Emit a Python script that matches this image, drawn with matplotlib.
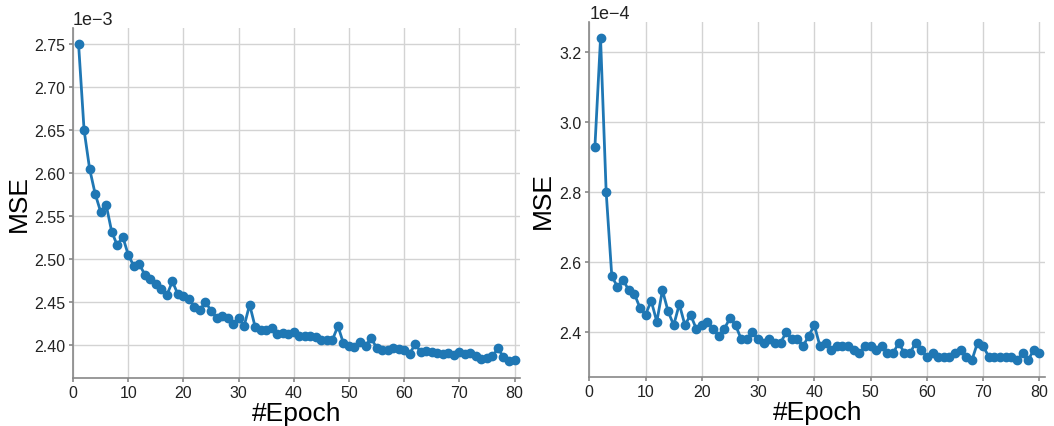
import numpy as np
import matplotlib
matplotlib.use("Agg")
import matplotlib.pyplot as plt

plt.rcParams['font.family'] = ['Liberation Sans', 'DejaVu Sans']

# data (MSE per epoch)
epochs = np.arange(1, 81)

mse_left = np.array([
    2.750, 2.650, 2.605, 2.576, 2.555, 2.563, 2.532, 2.516, 2.526, 2.505,
    2.492, 2.494, 2.482, 2.477, 2.471, 2.465, 2.458, 2.474, 2.459, 2.457,
    2.454, 2.444, 2.441, 2.450, 2.440, 2.432, 2.434, 2.432, 2.424, 2.431,
    2.422, 2.447, 2.421, 2.418, 2.418, 2.420, 2.413, 2.414, 2.413, 2.415,
    2.410, 2.410, 2.410, 2.409, 2.406, 2.406, 2.406, 2.422, 2.402, 2.399,
    2.398, 2.404, 2.399, 2.408, 2.397, 2.394, 2.394, 2.397, 2.395, 2.394,
    2.390, 2.401, 2.392, 2.393, 2.392, 2.391, 2.389, 2.391, 2.388, 2.392,
    2.389, 2.391, 2.387, 2.384, 2.385, 2.387, 2.396, 2.386, 2.381, 2.383,
]) * 1e-3

mse_right = np.array([
    2.93, 3.24, 2.80, 2.56, 2.53, 2.55, 2.52, 2.51, 2.47, 2.45,
    2.49, 2.43, 2.52, 2.46, 2.42, 2.48, 2.42, 2.45, 2.41, 2.42,
    2.43, 2.41, 2.39, 2.41, 2.44, 2.42, 2.38, 2.38, 2.40, 2.38,
    2.37, 2.38, 2.37, 2.37, 2.40, 2.38, 2.38, 2.36, 2.39, 2.42,
    2.36, 2.37, 2.35, 2.36, 2.36, 2.36, 2.35, 2.34, 2.36, 2.36,
    2.35, 2.36, 2.34, 2.34, 2.37, 2.34, 2.34, 2.37, 2.35, 2.33,
    2.34, 2.33, 2.33, 2.33, 2.34, 2.35, 2.33, 2.32, 2.37, 2.36,
    2.33, 2.33, 2.33, 2.33, 2.33, 2.32, 2.34, 2.32, 2.35, 2.34,
]) * 1e-4

fig = plt.figure(figsize=(10.54, 4.27), dpi=100)
ax1 = fig.add_axes([0.0693, 0.1131, 0.4241, 0.8183])
ax2 = fig.add_axes([0.5591, 0.1155, 0.4324, 0.8313])

def style(ax, y, ylim, yticks, ylab_x):
    ax.plot(epochs, y, color='#1f77b4', lw=2, marker='o', ms=6, zorder=3)
    ax.set_xlim(0, 81)
    ax.set_ylim(*ylim)
    ax.set_xticks([0, 10, 20, 30, 40, 50, 60, 70, 80])
    ax.set_yticks(yticks)
    ax.ticklabel_format(axis='y', style='sci', scilimits=(0, 0))
    ax.yaxis.get_offset_text().set_fontsize(13)
    ax.grid(True, color='#d3d3d3', lw=1)
    ax.set_axisbelow(True)
    for s in ['top', 'right']:
        ax.spines[s].set_visible(False)
    for s in ['left', 'bottom']:
        ax.spines[s].set_color('#888888')
        ax.spines[s].set_linewidth(1.2)
    ax.tick_params(colors='#888888', labelcolor='#222222', labelsize=11.5,
                   length=3, width=1.2, pad=2.5)
    ax.set_xlabel('#Epoch', fontsize=19)
    ax.set_ylabel('MSE', fontsize=19)
    ax.xaxis.set_label_coords(0.5, -0.066)
    ax.yaxis.set_label_coords(ylab_x, 0.5)

style(ax1, mse_left, (2.362e-3, 2.7683e-3),
      np.arange(2.40, 2.751, 0.05) * 1e-3, -0.094)
style(ax2, mse_right, (2.273e-4, 3.287e-4),
      np.array([2.4, 2.6, 2.8, 3.0, 3.2]) * 1e-4, -0.075)

fig.savefig('out.png', dpi=100)
